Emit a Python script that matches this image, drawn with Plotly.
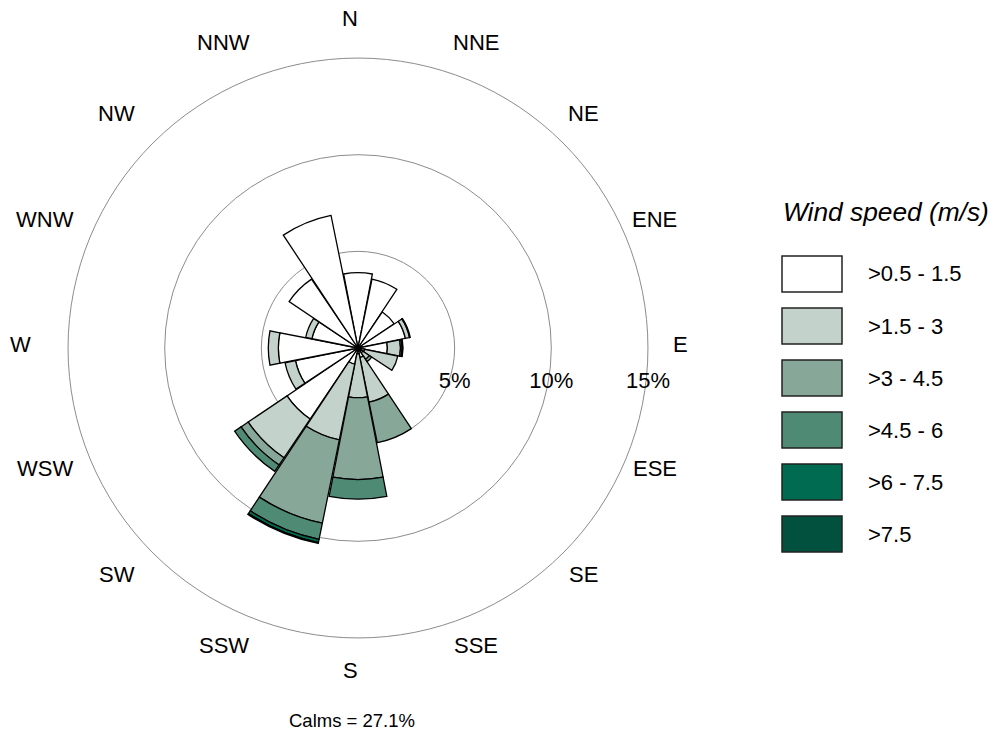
import math
import plotly.graph_objects as go

directions = ["N", "NNE", "NE", "ENE", "E", "ESE", "SE", "SSE",
              "S", "SSW", "SW", "WSW", "W", "WNW", "NW", "NNW"]
speed_classes = [">0.5 - 1.5", ">1.5 - 3", ">3 - 4.5", ">4.5 - 6", ">6 - 7.5", ">7.5"]
colors = ["#ffffff", "#c3d2ca", "#87a898", "#4f8a74", "#006b50", "#02503e"]

# frequency (%) per direction for each speed class
f_05_15 = [3.90, 3.64, 2.25, 2.50, 1.52, 0.35, 0.30, 0.50, 0.30, 0.85, 4.43, 3.30, 4.12, 2.43, 4.30, 7.00]
f_15_3 = [0.00, 0.00, 0.00, 0.22, 0.68, 1.75, 0.40, 2.36, 2.27, 4.00, 2.42, 0.55, 0.52, 0.33, 0.00, 0.00]
f_3_45 = [0.00, 0.00, 0.00, 0.04, 0.08, 0.00, 0.15, 2.14, 4.24, 4.40, 0.45, 0.00, 0.00, 0.00, 0.00, 0.00]
f_45_6 = [0.00, 0.00, 0.00, 0.00, 0.05, 0.00, 0.00, 0.00, 1.01, 0.85, 0.40, 0.00, 0.00, 0.00, 0.00, 0.00]
f_6_75 = [0.00, 0.00, 0.00, 0.00, 0.00, 0.00, 0.00, 0.00, 0.00, 0.17, 0.00, 0.00, 0.00, 0.00, 0.00, 0.00]
f_75 = [0.00, 0.00, 0.00, 0.00, 0.00, 0.00, 0.00, 0.00, 0.00, 0.05, 0.00, 0.00, 0.00, 0.00, 0.00, 0.00]
series = [f_05_15, f_15_3, f_3_45, f_45_6, f_6_75, f_75]

radial_ticks = [5, 10, 15]
radial_labels = ["5%", "10%", "15%"]
calms_text = "Calms = 27.1%"
legend_title = "Wind speed (m/s)"

angles = [i * 360 / len(directions) for i in range(len(directions))]

FONT = "Liberation Sans, Arial, sans-serif"
W, H = 992, 736

fig = go.Figure()
for name, vals, col in zip(speed_classes, series, colors):
    fig.add_trace(go.Barpolar(
        r=vals, theta=angles, width=22, name=name,
        marker=dict(color=col, line=dict(color="black", width=1.3)),
        showlegend=False,
    ))

cx, cy = 358, 348
rmax = 16.3
px_per = 19.33
R = rmax * px_per
dom_x = [(cx - R) / W, (cx + R) / W]
dom_y = [(H - cy - R) / H, (H - cy + R) / H]

fig.update_layout(
    width=W, height=H,
    margin=dict(l=0, r=0, t=0, b=0),
    paper_bgcolor="white",
    font=dict(family=FONT, size=22, color="black"),
    polar=dict(
        domain=dict(x=dom_x, y=dom_y),
        bgcolor="white",
        barmode="stack",
        radialaxis=dict(
            range=[0, rmax], tickvals=radial_ticks, ticktext=radial_labels,
            showline=False, gridcolor="#8c8c8c", gridwidth=1,
            angle=0, side="clockwise", ticks="outside", ticklen=13,
            tickcolor="rgba(0,0,0,0)", tickfont=dict(size=22, family=FONT),
        ),
        angularaxis=dict(
            tickvals=angles, ticktext=directions, showticklabels=False,
            rotation=90, direction="clockwise",
            showgrid=False, showline=False, ticks="",
        ),
    ),
)

shapes = []
annotations = []

# compass direction labels around the rose
lab_cx, lab_cy, lab_rx, lab_ry = 350, 344, 330, 326
for d, a in zip(directions, angles):
    t = math.radians(a)
    annotations.append(dict(x=(lab_cx + lab_rx * math.sin(t)) / W,
                            y=1 - (lab_cy - lab_ry * math.cos(t)) / H,
                            xref="paper", yref="paper", text=d, showarrow=False,
                            xanchor="center", yanchor="middle",
                            font=dict(size=22, family=FONT, color="black")))

# custom legend
box_x0, box_x1 = 782, 842
top0, box_h, step = 256, 36, 52
for i, (name, col) in enumerate(zip(speed_classes, colors)):
    y0 = top0 + i * step
    shapes.append(dict(type="rect", xref="paper", yref="paper",
                       x0=box_x0 / W, x1=box_x1 / W,
                       y0=1 - y0 / H, y1=1 - (y0 + box_h) / H,
                       fillcolor=col, line=dict(color="#222222", width=1.5)))
    annotations.append(dict(x=866 / W, y=1 - (y0 + box_h / 2) / H, xref="paper", yref="paper",
                            text=name, showarrow=False, xanchor="left", yanchor="middle",
                            font=dict(size=22, family=FONT, color="black")))
annotations.append(dict(x=781 / W, y=1 - 212 / H, xref="paper", yref="paper",
                        text="<i>" + legend_title + "</i>", showarrow=False,
                        xanchor="left", yanchor="middle",
                        font=dict(size=26.3, family=FONT, color="black")))
annotations.append(dict(x=352 / W, y=1 - 720 / H, xref="paper", yref="paper",
                        text=calms_text, showarrow=False, xanchor="center", yanchor="middle",
                        font=dict(size=18.5, family=FONT, color="black")))
fig.update_layout(shapes=shapes, annotations=annotations)

fig.write_html("out.html", config={"displayModeBar": False},
               post_script="document.body.style.margin='0px';")
